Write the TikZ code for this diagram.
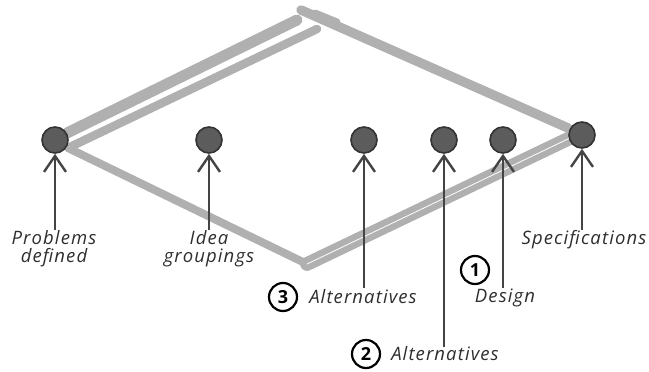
\documentclass[tikz,border=0pt]{standalone}
\usepackage{fontspec}
\newfontfamily\hand{Open Sans}[LetterSpace=6]
\newfontfamily\digitfont{Open Sans}
\usetikzlibrary{arrows.meta}
\definecolor{bandgray}{HTML}{B0B0B0}
\definecolor{dotfill}{HTML}{5C5C5C}
\definecolor{dotline}{HTML}{333333}
\definecolor{inkgray}{HTML}{444444}
\definecolor{textgray}{HTML}{2E2E2E}
\tikzset{
  band/.style={draw=bandgray, line cap=round, line join=round},
  milestone/.style={circle, fill=dotfill, draw=dotline, line width=1.6pt,
    minimum size=26pt, inner sep=0pt},
  pointer/.style={draw=inkgray, line width=2.4pt,
    -{Straight Barb[length=16pt, width=22pt, line width=2.4pt]}},
  caption/.style={font=\hand\itshape\fontsize{18.5}{18}\selectfont,
    text=textgray, inner sep=0pt, align=center},
  badge/.style={circle, draw=black, line width=2.2pt, minimum size=28pt,
    inner sep=0pt, font=\digitfont\bfseries\fontsize{18}{18}\selectfont}
}
\begin{document}
\begin{tikzpicture}[x=1pt, y=-1pt]
\useasboundingbox (0,0) rectangle (649,372);

% grey outline of the process shape
\draw[band, line width=11pt] (67,133) -- (297,20);
\draw[band, line width=8.5pt] (70,147) -- (317,29);
\draw[band, line width=9.5pt] (301,10) -- (568,128);
\draw[band, line width=7pt] (315,13) -- (337,22);
\draw[band, line width=8pt] (68,148) -- (307,264);
\draw[band, line width=6.5pt, double=white, double distance=0.8pt] (307,264) -- (570,138);

% milestones
\node[milestone] (m1) at (55,140) {};
\node[milestone] (m2) at (209,140) {};
\node[milestone] (m3) at (364,140) {};
\node[milestone] (m4) at (444,140) {};
\node[milestone] (m5) at (503,140) {};
\node[milestone] (m6) at (582,135) {};

% captions
\node[caption] (lprob) at (54,249) {Problems\\defined};
\node[caption] (lidea) at (209,249) {Idea\\groupings};
\node[caption] (lalt3) at (363,297) {Alternatives};
\node[caption] (ldes)  at (505,298) {Design};
\node[caption] (lalt2) at (445,354) {Alternatives};
\node[caption] (lspec) at (584,240) {Specifications};

% numbered badges
\node[badge] (b3) at (283,297) {3};
\node[badge] (b1) at (475,270) {1};
\node[badge] (b2) at (366,354) {2};

% pointer feet
\coordinate (f1) at (55,230);
\coordinate (f2) at (209,230);
\coordinate (f3) at (364,288);
\coordinate (f4) at (444,347);
\coordinate (f5) at (503,288);
\coordinate (f6) at (582,230);

% pointers
\draw[pointer] (f1) -- (m1);
\draw[pointer] (f2) -- (m2);
\draw[pointer] (f3) -- (m3);
\draw[pointer] (f4) -- (m4);
\draw[pointer] (f5) -- (m5);
\draw[pointer] (f6) -- (m6);
\end{tikzpicture}
\end{document}
